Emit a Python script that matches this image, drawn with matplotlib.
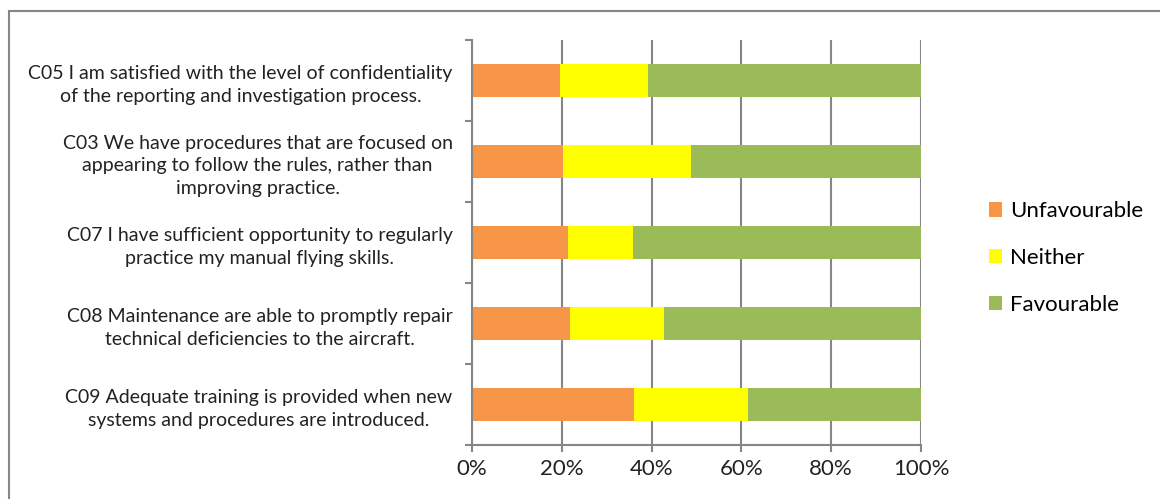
import matplotlib.pyplot as plt
from matplotlib.patches import Rectangle
from matplotlib.ticker import PercentFormatter

# Survey items, top to bottom
questions = [
    "C05 I am satisfied with the level of confidentiality\nof the reporting and investigation process.",
    "C03 We have procedures that are focused on\nappearing to follow the rules, rather than\nimproving practice.",
    "C07 I have sufficient opportunity to regularly\npractice my manual flying skills.",
    "C08 Maintenance are able to promptly repair\ntechnical deficiencies to the aircraft.",
    "C09 Adequate training is provided when new\nsystems and procedures are introduced.",
]

# Share of responses (%) per item
unfavourable = [19.6, 20.2, 21.3, 21.8, 36.1]
neither = [19.6, 28.5, 14.5, 20.9, 25.4]
favourable = [60.8, 51.3, 64.2, 57.3, 38.5]

series = ["Unfavourable", "Neither", "Favourable"]
colors = ["#F79646", "#FFFF00", "#9BBB59"]

plt.rcParams['font.family'] = ['Lato', 'DejaVu Sans']

fig = plt.figure(figsize=(11.6, 4.99), dpi=100)
ax = fig.add_axes([472 / 1160, 54 / 499, 449 / 1160, 405 / 499])

pos = list(range(len(questions)))
left = [0.0] * len(questions)
for name, vals, col in zip(series, [unfavourable, neither, favourable], colors):
    ax.barh(pos, vals, left=left, height=0.4, color=col, label=name, zorder=2)
    left = [l + v for l, v in zip(left, vals)]

ax.set_xlim(0, 100)
ax.set_ylim(len(questions) - 0.5, -0.5)
ax.xaxis.set_major_formatter(PercentFormatter(decimals=0))
ax.set_xticks(range(0, 101, 20))

# category boundaries get the tick marks, centres get the labels
ax.set_yticks([i - 0.5 for i in range(len(questions) + 1)])
ax.set_yticklabels([])
ax.set_yticks(pos, minor=True)
ax.set_yticklabels(questions, minor=True, fontsize=14, color="#222222")
for t in ax.get_yticklabels(minor=True):
    t.set_multialignment('center')
    t.set_linespacing(1.4)
ax.tick_params(axis='y', which='minor', length=0, pad=14)
ax.tick_params(axis='y', which='major', length=5, width=1.5, color="#868686")
ax.tick_params(axis='x', length=5, width=1.5, color="#868686",
               labelsize=16, labelcolor="#222222", pad=5)

ax.grid(axis='x', color="#868686", linewidth=1.5, zorder=0)
for side in ['top', 'right']:
    ax.spines[side].set_visible(False)
for side in ['left', 'bottom']:
    ax.spines[side].set_color("#868686")
    ax.spines[side].set_linewidth(1.5)

leg = fig.legend(loc='center left', bbox_to_anchor=(969 / 1160, 1 - 258 / 499),
                 frameon=False, fontsize=16, handlelength=0.6, handleheight=0.6,
                 handletextpad=0.35, labelspacing=1.2)

# outer chart frame
fig.patches.append(Rectangle((9 / 1160, -0.1), 1.2, 1 - 11 / 499 + 0.1,
                             transform=fig.transFigure, fill=False,
                             edgecolor="#868686", linewidth=1.5, clip_on=False))

fig.savefig('out.png', dpi=100)
